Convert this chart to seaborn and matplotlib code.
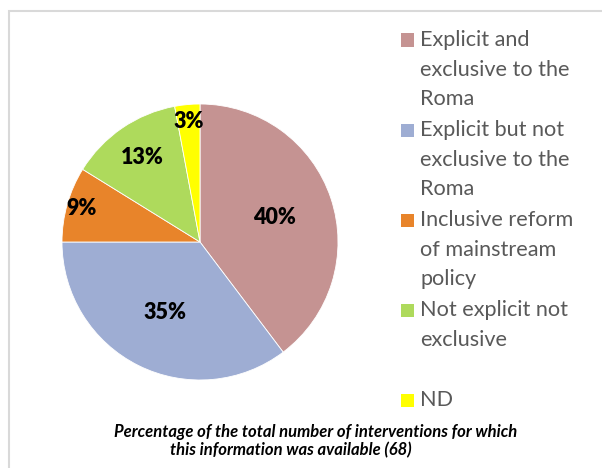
import matplotlib

matplotlib.use("Agg")
import matplotlib.pyplot as plt
import numpy as np
import seaborn as sns
from matplotlib.patches import Rectangle

# interventions per category (68 in total), clockwise from 12 o'clock
categories = [
    "Explicit and\nexclusive to the\nRoma",
    "Explicit but not\nexclusive to the\nRoma",
    "Inclusive reform\nof mainstream\npolicy",
    "Not explicit not\nexclusive\n",
    "ND",
]
counts = [27, 24, 6, 9, 2]
colors = ["#C59392", "#9EADD3", "#E8842A", "#AEDA5C", "#FFFF00"]
# excel "best fit" label radii
label_radius = [0.57, 0.57, 0.89, 0.74, 0.88]
caption = [
    "Percentage of the total number of interventions for which",
    "this information was available (68)",
]

W, H = 602, 468
sns.set_theme(style="white")
plt.rcParams["font.family"] = ["Lato", "DejaVu Sans"]

fig = plt.figure(figsize=(W / 100, H / 100), dpi=100)
fig.patch.set_facecolor("white")

# chart area border (only top/left visible in the crop)
fig.add_artist(Rectangle((8.5 / W, -0.1), 1.2, 1 - 10.5 / H + 0.1,
                         transform=fig.transFigure, fill=False,
                         edgecolor="#D9D9D9", linewidth=1.5))

cx, cy, r = 200, 242, 138
ax = fig.add_axes([(cx - r) / W, (H - cy - r) / H, 2 * r / W, 2 * r / H])
wedges, _, autotexts = ax.pie(
    counts, colors=sns.color_palette(colors), startangle=90, counterclock=False,
    autopct=lambda p: f"{p:.0f}%", pctdistance=0.6,
    wedgeprops=dict(edgecolor="white", linewidth=0.6),
    textprops=dict(fontsize=15.5, fontweight="heavy", color="black"),
)
for w, t, d in zip(wedges, autotexts, label_radius):
    ang = np.deg2rad((w.theta1 + w.theta2) / 2)
    t.set_position((d * np.cos(ang), d * np.sin(ang)))
    t.set_ha("center")
    t.set_va("center")
ax.set_xlim(-1, 1)
ax.set_ylim(-1, 1)
ax.set_aspect("equal")

# legend drawn by hand so the swatch sits on the first line
sq = 13
for i, (lab, col) in enumerate(zip(categories, colors)):
    yc = 40 + i * 90
    fig.add_artist(Rectangle((401 / W, 1 - (yc + sq / 2) / H), sq / W, sq / H,
                             transform=fig.transFigure, facecolor=col,
                             edgecolor="none"))
    for k, line in enumerate(lab.split("\n")):
        fig.text(420 / W, 1 - (yc + k * 29.5) / H, line, fontsize=15.6,
                 color="#595959", ha="left", va="center")

fig.text(316 / W, 1 - 432 / H, caption[0], fontsize=12, fontweight="bold",
         fontstyle="italic", ha="center", va="center", color="black")
fig.text(291 / W, 1 - 450 / H, caption[1], fontsize=12, fontweight="bold",
         fontstyle="italic", ha="center", va="center", color="black")

fig.savefig("out.png", dpi=100)
plt.close(fig)
